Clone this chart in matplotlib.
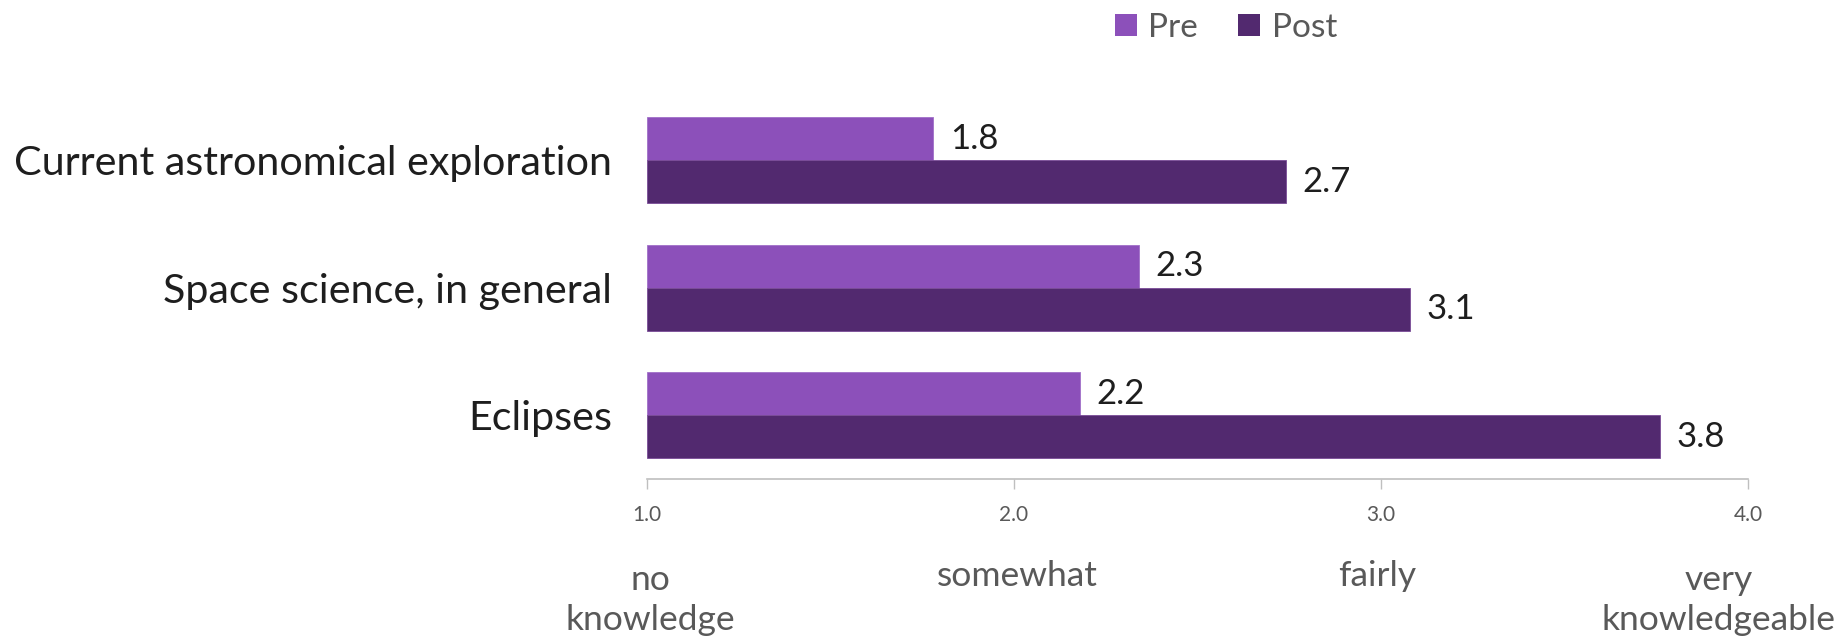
import matplotlib
matplotlib.use("Agg")
import matplotlib.pyplot as plt
from matplotlib.patches import Patch
import numpy as np

plt.rcParams['font.family'] = ['Lato', 'DejaVu Sans']

topics = ["Eclipses", "Space science, in general", "Current astronomical exploration"]
pre_scores = [2.18, 2.34, 1.78]
post_scores = [3.76, 3.08, 2.74]
scale_ticks = [1.0, 2.0, 3.0, 4.0]
scale_words = ["no\nknowledge", "somewhat", "fairly", "very\nknowledgeable"]
scale_word_pos = [1.01, 2.01, 2.99, 3.92]

pre_color = "#8C50BA"
post_color = "#52296F"
grey = "#595959"
ink = "#1E1E1E"

fig = plt.figure(figsize=(18.45, 6.38), dpi=100)
ax = fig.add_axes([0.3507, 0.2492, 0.5967, 0.5995])

y = np.arange(len(topics))
h = 0.337
ax.barh(y + h / 2, np.array(pre_scores) - 1, left=1, height=h, color=pre_color,
        edgecolor="#A070C8", linewidth=0.6)
ax.barh(y - h / 2, np.array(post_scores) - 1, left=1, height=h, color=post_color,
        edgecolor="#7A4C98", linewidth=0.6)

# value labels just past the bar ends
for yi, v in zip(y, pre_scores):
    ax.text(v + 0.045, yi + h / 2, f"{v:.1f}", va="center", ha="left",
            fontsize=25, color=ink)
for yi, v in zip(y, post_scores):
    ax.text(v + 0.045, yi - h / 2, f"{v:.1f}", va="center", ha="left",
            fontsize=25, color=ink)

ax.set_xlim(1, 4)
ax.set_ylim(-0.5, 2.5)
ax.set_yticks(y)
ax.set_yticklabels(topics, fontsize=29.7, color=ink)
ax.tick_params(axis="y", length=0, pad=25)
ax.set_xticks(scale_ticks)
ax.set_xticklabels([f"{t:.1f}" for t in scale_ticks], fontsize=15, color=grey)
ax.tick_params(axis="x", length=7, width=1, color="#BFBFBF", pad=12)

for side in ["top", "right", "left"]:
    ax.spines[side].set_visible(False)
ax.spines["bottom"].set_color("#BFBFBF")
ax.spines["bottom"].set_linewidth(1.2)

# knowledge scale words under the axis
for xpos, word in zip(scale_word_pos, scale_words):
    ybase = -1.684 if "\n" in word else -1.34
    ax.text(xpos, ybase, word, ha="center", va="baseline", fontsize=25.5,
            color=grey, linespacing=1.3, clip_on=False)

handles = [Patch(facecolor=pre_color, label="Pre"),
           Patch(facecolor=post_color, label="Post")]
fig.legend(handles=handles, loc="center", bbox_to_anchor=(0.6645, 0.956),
           ncol=2, frameon=False, fontsize=24, handlelength=0.65, handleheight=0.65,
           handletextpad=0.35, columnspacing=1.2, labelcolor=grey,
           borderpad=0, borderaxespad=0)

fig.savefig("out.png", dpi=100)
